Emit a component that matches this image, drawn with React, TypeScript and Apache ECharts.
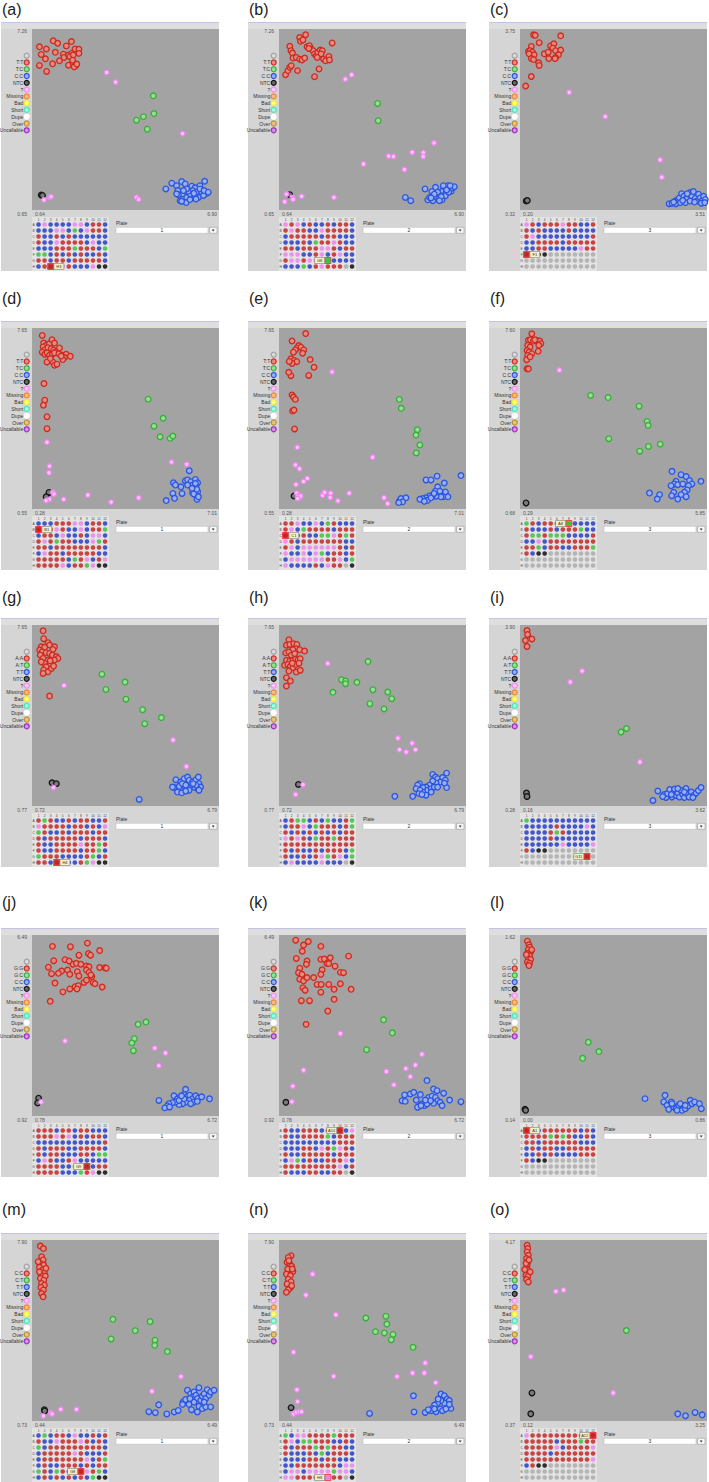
import React, { useEffect, useRef } from "react";
import * as echarts from "echarts";

// ---------- axis end labels (per panel a..o) ----------
const panelLetters = ["a", "b", "c", "d", "e", "f", "g", "h", "i", "j", "k", "l", "m", "n", "o"];
const xMinLabels = ["0.64", "0.64", "0.20", "0.28", "0.28", "0.29", "0.72", "0.72", "0.16", "0.78", "0.78", "0.00", "0.44", "0.44", "0.12"];
const xMaxLabels = ["6.90", "6.90", "3.51", "7.01", "7.01", "5.85", "6.79", "6.79", "3.62", "6.72", "6.72", "0.86", "6.49", "6.49", "3.25"];
const yMinLabels = ["0.65", "0.65", "0.32", "0.55", "0.55", "0.68", "0.77", "0.77", "0.28", "0.92", "0.92", "0.14", "0.73", "0.73", "0.37"];
const yMaxLabels = ["7.26", "7.26", "3.75", "7.65", "7.65", "7.60", "7.65", "7.65", "3.90", "6.49", "6.49", "1.62", "7.90", "7.90", "4.17"];
const plateNumbers = ["1", "2", "3"];

// ---------- legend ----------
const genoTC = ["T:T", "T:C", "C:C"];
const genoAT = ["A:A", "A:T", "T:T"];
const genoGC = ["G:G", "G:C", "C:C"];
const genoCT = ["C:C", "C:T", "T:T"];
const panelGeno = [genoTC, genoTC, genoTC, genoTC, genoTC, genoTC, genoAT, genoAT, genoAT, genoGC, genoGC, genoGC, genoCT, genoCT, genoCT];
const legendOther = ["NTC", "?", "Missing", "Bad", "Short", "Dupe", "Over", "Uncallable"];

// ---------- scatter values ----------
const aRed = [[0.89,6.61],[1.12,6.53],[1.35,6.83],[1.50,6.74],[1.79,6.64],[1.96,6.80],[2.08,6.53],[2.21,6.52],[0.95,6.33],[1.09,6.17],[1.42,6.41],[1.69,6.34],[1.71,6.22],[1.86,6.31],[1.97,6.37],[1.91,6.25],[2.02,6.31],[2.21,6.37],[1.56,6.10],[1.33,5.99],[0.89,5.93],[1.13,5.71],[1.86,5.94],[2.02,6.00],[2.11,5.93],[2.05,5.88],[2.00,6.12],[2.14,5.98]];
const aGreen = [[4.70,4.82],[4.72,4.17],[4.14,3.93],[4.37,4.06],[4.50,3.60]];
const aBlue = [[5.12,1.42],[5.32,1.63],[5.48,1.54],[5.65,1.69],[5.77,1.60],[5.52,1.36],[5.68,1.24],[5.54,1.21],[5.82,1.11],[5.60,0.99],[5.80,0.92],[5.93,1.03],[5.99,1.52],[6.10,1.46],[6.26,1.54],[6.42,1.70],[6.02,1.36],[6.15,1.30],[6.32,1.30],[6.49,1.26],[6.21,1.11],[6.38,1.18],[6.10,1.14],[5.93,1.24],[5.87,1.33],[6.06,1.26],[6.26,1.42],[6.40,1.36],[6.54,1.30],[5.65,0.97],[5.48,1.24],[6.13,1.05],[5.82,1.42],[5.71,1.36]];
const aNtc = [[0.95,1.20],[0.99,1.18]];
const aUnk = [[3.14,5.67],[3.44,5.32],[5.68,3.44],[1.04,1.02],[1.24,1.11],[4.14,1.11],[4.21,1.04],[1.28,1.14]];

const bRed = [[1.53,7.05],[1.33,6.95],[1.36,6.81],[1.44,6.86],[1.00,6.63],[1.04,6.47],[1.09,6.38],[1.11,6.20],[1.22,6.22],[1.33,6.16],[1.41,6.13],[1.50,6.20],[1.58,6.61],[1.66,6.65],[1.72,6.53],[1.78,6.47],[1.83,6.35],[1.89,6.28],[1.94,6.41],[2.02,6.49],[2.09,6.47],[2.05,6.35],[2.13,6.16],[2.20,6.10],[2.31,6.26],[2.33,6.13],[2.42,6.75],[1.98,5.80],[1.83,5.52],[1.26,5.74],[0.86,5.59],[0.94,5.74],[1.00,5.86],[1.05,5.92],[1.64,6.55],[1.92,6.22]];
const bGreen = [[3.94,4.54],[3.96,3.91]];
const bBlue = [[4.87,1.11],[5.05,0.99],[5.53,1.42],[5.62,1.02],[5.68,1.11],[5.76,1.33],[5.79,0.99],[5.88,1.48],[5.90,1.14],[5.99,1.05],[6.03,1.23],[6.10,1.02],[6.12,1.36],[6.18,1.48],[6.23,1.26],[6.29,1.54],[6.34,1.42],[6.40,1.33],[6.45,1.45],[6.51,1.50],[6.21,1.17],[6.07,1.14],[5.95,1.30],[5.84,1.23],[5.73,1.09],[6.32,1.30],[6.14,1.54],[6.25,1.38],[6.37,1.54],[6.01,0.99]];
const bNtc = [[1.00,1.21]];
const bUnk = [[2.86,5.43],[3.07,5.59],[5.83,3.10],[4.31,2.62],[4.47,2.60],[5.10,2.76],[5.47,2.74],[5.47,2.60],[4.84,2.13],[3.47,2.33],[0.89,1.23],[1.09,1.11],[1.11,1.04],[0.83,0.95],[1.40,1.15],[2.48,1.11]];

const cRed = [[0.44,3.64],[0.47,3.63],[0.92,3.62],[0.54,3.49],[0.40,3.42],[0.35,3.33],[0.38,3.34],[0.42,3.31],[0.45,3.26],[0.36,3.28],[0.40,3.19],[0.44,3.17],[0.53,3.11],[0.54,3.06],[0.63,3.28],[0.70,3.31],[0.74,3.43],[0.80,3.47],[0.78,3.39],[0.83,3.34],[0.92,3.35],[0.88,3.26],[0.83,3.21],[0.82,3.19],[0.71,3.19],[0.40,2.85],[0.30,2.67]];
const cGreen: number[][] = [];
const cBlue = [[2.84,0.44],[2.89,0.45],[2.95,0.49],[3.00,0.52],[3.02,0.55],[3.06,0.63],[3.10,0.58],[3.13,0.52],[3.16,0.55],[3.19,0.62],[3.21,0.65],[3.24,0.58],[3.27,0.67],[3.30,0.54],[3.33,0.49],[3.36,0.62],[3.39,0.55],[3.42,0.49],[3.45,0.58],[3.48,0.52],[2.96,0.44],[3.04,0.46],[3.13,0.46],[3.21,0.49],[3.29,0.47],[3.41,0.45],[3.16,0.63],[3.08,0.50],[3.47,0.46],[2.92,0.47]];
const cNtc = [[0.31,0.49],[0.33,0.50]];
const cUnk = [[1.07,2.55],[1.71,2.09],[2.68,1.27],[2.71,0.94]];

const dRed = [[0.65,7.36],[0.70,7.06],[0.79,6.97],[0.91,7.04],[1.00,7.19],[1.09,7.06],[0.68,6.91],[0.74,6.80],[0.85,6.88],[0.97,6.84],[1.06,6.78],[1.13,6.71],[1.27,6.87],[0.65,6.70],[0.74,6.62],[0.82,6.67],[0.91,6.58],[1.01,6.62],[1.09,6.67],[1.25,6.64],[1.37,6.58],[1.51,6.62],[1.66,6.54],[1.45,6.49],[1.39,6.41],[1.03,6.32],[1.09,6.19],[1.18,6.23],[0.82,6.32],[0.94,6.45],[0.71,5.47],[0.74,4.82],[0.69,4.62],[0.82,4.17],[0.82,3.70],[1.33,6.55]];
const dGreen = [[4.46,4.86],[5.00,4.11],[4.67,3.80],[4.89,3.38],[5.25,3.32],[5.35,3.41]];
const dBlue = [[5.94,2.05],[5.80,1.66],[5.88,1.69],[6.00,1.62],[6.16,1.71],[6.24,1.58],[6.06,1.49],[6.18,1.42],[6.12,1.32],[6.24,1.23],[6.06,1.19],[6.18,1.10],[6.22,0.93],[5.68,1.16],[5.64,1.42],[5.37,1.58],[5.44,1.49],[5.35,1.16],[5.41,0.97],[5.11,0.88],[5.88,1.49],[6.21,1.32],[6.04,1.36],[6.16,1.55],[6.10,1.14],[6.27,1.03]];
const dNtc = [[0.89,1.20],[0.79,1.03]];
const dUnk = [[0.82,3.17],[0.91,2.23],[0.89,1.97],[1.03,1.20],[1.07,1.14],[0.91,0.93],[0.79,0.88],[1.42,0.93],[2.29,1.10],[3.13,0.82],[4.12,0.99],[5.30,2.39],[5.85,2.30]];

const eRed = [[1.24,7.43],[0.75,7.14],[0.99,6.96],[0.93,6.87],[1.07,6.90],[0.87,6.79],[1.17,6.79],[0.80,6.70],[1.13,6.66],[0.71,6.44],[0.83,6.38],[0.92,6.33],[0.75,6.26],[0.65,6.34],[1.40,6.41],[1.54,6.11],[1.35,5.79],[0.71,5.78],[0.63,5.91],[0.75,5.02],[0.80,4.94],[0.87,4.85],[0.77,4.39],[0.82,4.43],[0.84,3.69]];
const eGreen = [[4.61,4.85],[4.68,4.50],[5.26,3.66],[5.21,3.45],[5.35,3.06],[5.22,2.75]];
const eBlue = [[6.83,1.86],[5.57,1.69],[5.75,1.69],[5.97,1.84],[6.23,1.57],[5.99,1.42],[5.91,1.25],[6.05,1.12],[6.27,1.22],[6.19,1.03],[6.36,1.03],[6.11,1.03],[5.93,1.05],[5.81,1.09],[5.69,1.06],[5.57,0.99],[5.45,0.96],[5.35,0.93],[5.63,0.89],[5.51,0.85],[5.75,0.99],[5.86,1.16],[6.07,1.25],[4.61,0.85],[4.67,0.96],[4.85,0.99],[4.73,0.83],[4.59,0.80]];
const eNtc = [[0.82,1.06]];
const eUnk = [[2.19,5.93],[0.94,2.97],[3.65,2.58],[0.87,2.28],[1.02,2.13],[1.30,1.75],[1.16,1.63],[0.89,1.51],[0.92,1.17],[0.96,1.06],[1.01,0.99],[1.06,1.06],[0.95,0.96],[1.85,1.09],[1.92,1.20],[2.14,1.17],[2.12,1.00],[2.40,0.87],[2.81,1.17],[4.06,0.99],[4.19,0.76]];

const fRed = [[0.64,7.38],[0.54,7.13],[0.60,7.15],[0.69,7.10],[0.78,7.13],[0.88,7.10],[0.91,7.00],[0.85,6.94],[0.52,6.94],[0.59,6.87],[0.50,6.74],[0.56,6.68],[0.64,6.62],[0.52,6.55],[0.49,6.39],[0.59,6.50],[0.83,6.71],[0.50,6.04],[0.54,6.04],[0.73,7.15]];
const fGreen = [[2.39,5.02],[2.91,4.94],[3.83,4.61],[4.07,4.03],[4.10,3.88],[2.93,3.37],[4.11,3.07],[4.46,3.16],[3.85,2.89]];
const fBlue = [[4.81,2.12],[5.08,1.99],[5.23,1.92],[5.33,1.77],[5.40,1.64],[5.67,1.74],[4.93,1.74],[4.88,1.64],[4.98,1.61],[4.78,1.57],[5.13,1.64],[5.30,1.57],[5.26,1.41],[5.18,1.32],[5.08,1.23],[4.86,1.32],[4.80,1.19],[4.98,1.06],[5.23,1.15],[4.14,1.29],[4.44,1.23],[4.37,1.06]];
const fNtc = [[0.47,0.91]];
const fUnk = [[1.46,5.99]];

const gRed = [[1.08,7.43],[1.10,7.13],[1.24,6.98],[1.29,6.89],[1.02,6.82],[1.13,6.80],[1.45,6.82],[1.40,6.72],[0.97,6.70],[1.05,6.63],[1.18,6.60],[1.29,6.57],[1.38,6.51],[1.51,6.45],[1.56,6.38],[1.45,6.32],[0.99,6.51],[1.08,6.38],[1.24,6.32],[1.31,6.29],[1.13,6.19],[1.02,6.25],[1.18,6.06],[1.10,5.94],[1.24,5.87],[1.35,6.00],[1.08,5.81],[1.42,6.09],[1.29,4.95]];
const gGreen = [[2.99,5.78],[3.74,5.48],[3.12,5.20],[3.77,4.83],[4.31,4.43],[4.92,4.13],[4.38,3.90]];
const gBlue = [[4.20,1.02],[5.39,1.77],[5.55,1.68],[5.66,1.81],[5.77,1.87],[5.82,1.75],[5.93,1.68],[6.04,1.77],[6.12,1.87],[6.14,1.62],[6.19,1.49],[6.09,1.43],[5.98,1.49],[5.87,1.56],[5.77,1.49],[5.66,1.43],[5.55,1.37],[5.44,1.30],[5.33,1.47],[5.28,1.49],[5.50,1.52],[5.60,1.62],[5.71,1.56],[6.04,1.56],[6.14,1.37],[5.82,1.37],[5.95,1.62],[5.58,1.27],[5.71,1.34]];
const gNtc = [[1.37,1.65],[1.51,1.62]];
const gUnk = [[1.76,5.35],[5.30,3.28],[5.73,2.27],[1.42,1.47]];

const hRed = [[1.04,7.09],[0.96,6.88],[1.07,6.91],[1.20,6.94],[1.30,6.91],[1.28,6.75],[1.39,6.71],[1.55,6.66],[1.17,6.71],[0.94,6.59],[1.04,6.62],[1.12,6.50],[0.96,6.31],[1.07,6.28],[1.17,6.31],[1.26,6.37],[1.34,6.33],[1.41,6.37],[0.90,6.12],[1.01,6.15],[1.09,6.08],[1.17,6.03],[1.26,6.15],[1.37,6.20],[1.04,5.90],[1.28,5.86],[1.41,5.93],[0.96,5.65],[1.09,5.52],[0.96,5.33],[1.15,6.20],[1.23,6.56]];
const hGreen = [[3.61,6.26],[2.75,5.57],[2.88,5.52],[2.88,5.42],[3.25,5.47],[2.47,5.09],[3.77,5.19],[4.25,5.10],[4.38,4.85],[3.67,4.66],[4.13,4.46]];
const hBlue = [[4.48,1.14],[6.16,2.02],[5.71,1.97],[5.80,1.87],[5.87,1.81],[6.03,1.85],[6.12,1.75],[5.95,1.68],[5.82,1.64],[5.71,1.72],[5.60,1.56],[5.49,1.49],[5.39,1.47],[5.28,1.62],[5.22,1.56],[5.17,1.43],[5.30,1.37],[5.44,1.30],[5.55,1.37],[5.66,1.43],[5.76,1.49],[5.87,1.49],[6.16,1.47],[5.26,1.24],[5.49,1.18],[5.36,1.21],[5.06,1.14],[5.66,1.30],[6.09,1.64]];
const hNtc = [[1.35,1.59]];
const hUnk = [[2.30,6.19],[4.58,3.35],[5.04,3.16],[4.63,2.91],[4.85,2.82],[5.15,2.91],[1.50,1.58],[1.26,1.21]];

const iRed = [[0.29,3.79],[0.30,3.71],[0.26,3.59],[0.38,3.62],[0.29,3.47]];
const iGreen = [[2.03,1.76],[2.13,1.83]];
const iBlue = [[2.62,0.39],[2.71,0.58],[2.83,0.51],[2.86,0.45],[2.89,0.53],[2.93,0.61],[2.97,0.46],[3.01,0.56],[3.05,0.49],[3.08,0.54],[3.11,0.46],[3.14,0.59],[3.17,0.51],[3.20,0.45],[3.23,0.63],[3.26,0.51],[3.29,0.46],[3.33,0.56],[3.37,0.49],[3.42,0.54],[3.46,0.59],[3.51,0.65],[3.02,0.62],[2.96,0.51],[3.36,0.45],[3.20,0.56],[2.80,0.47],[3.08,0.63]];
const iNtc = [[0.28,0.54],[0.29,0.47]];
const iUnk = [[1.31,2.98],[1.09,2.76],[2.38,1.16]];

const jRed = [[1.43,6.14],[2.00,6.13],[2.54,6.24],[2.93,6.01],[1.47,5.70],[1.83,5.73],[2.27,5.87],[2.57,5.92],[2.64,5.87],[2.08,5.59],[2.19,5.62],[2.33,5.59],[2.51,5.54],[2.59,5.51],[1.30,5.50],[1.72,5.38],[1.62,5.31],[1.40,5.30],[1.91,5.41],[1.98,5.28],[2.22,5.36],[2.27,5.23],[2.51,5.41],[2.59,5.34],[2.68,5.21],[2.93,5.49],[3.10,5.48],[3.14,5.47],[1.51,5.01],[1.76,4.74],[1.98,4.83],[2.15,4.90],[2.25,4.93],[2.21,4.83],[2.43,5.03],[2.51,5.10],[2.72,5.03],[2.78,4.99],[3.01,4.89],[1.36,4.45],[2.65,5.26],[1.96,5.69]];
const jGreen = [[4.15,3.74],[4.40,3.81],[4.03,3.30],[3.95,3.17],[4.00,2.93]];
const jBlue = [[4.81,1.40],[5.66,1.74],[6.42,1.45],[5.29,1.54],[5.40,1.45],[5.50,1.51],[5.61,1.58],[5.71,1.51],[5.79,1.56],[5.87,1.45],[5.98,1.54],[6.06,1.47],[6.17,1.51],[5.77,1.40],[5.66,1.35],[5.56,1.30],[5.45,1.27],[5.34,1.35],[5.24,1.33],[5.13,1.30],[5.08,1.23],[5.00,1.17],[5.15,1.20],[5.45,1.40],[5.92,1.35],[5.82,1.30],[5.61,1.45],[6.03,1.37],[5.53,1.54]];
const jNtc = [[0.99,1.47],[0.96,1.32]];
const jUnk = [[1.83,3.23],[4.68,3.01],[5.02,2.86],[4.81,2.47],[1.07,1.35]];

const kRed = [[1.31,6.33],[1.56,6.18],[1.71,6.29],[2.11,6.14],[1.52,5.99],[1.33,5.77],[1.67,5.69],[1.65,5.59],[2.11,5.74],[2.22,5.75],[2.41,5.79],[2.30,5.61],[2.56,5.53],[2.99,5.84],[1.44,5.47],[1.40,5.33],[1.51,5.28],[1.44,5.13],[1.56,5.08],[1.67,5.18],[1.88,5.18],[2.15,5.42],[2.11,5.28],[1.99,4.97],[2.12,4.97],[2.36,4.97],[2.73,5.34],[2.83,5.33],[2.73,4.99],[2.53,4.82],[3.07,4.82],[1.54,4.87],[1.61,4.79],[1.49,4.47],[1.75,4.47],[2.11,4.73],[2.53,4.51],[2.33,4.15],[1.64,3.74],[2.36,5.61]];
const kGreen = [[4.10,3.88],[4.38,3.48],[3.56,2.96]];
const kBlue = [[5.48,2.01],[4.77,1.57],[4.69,1.39],[4.79,1.37],[4.95,1.60],[5.06,1.65],[5.14,1.41],[5.27,1.58],[5.32,1.29],[5.22,1.21],[5.18,1.19],[5.40,1.24],[5.48,1.29],[5.53,1.49],[5.64,1.53],[5.69,1.75],[5.80,1.70],[5.75,1.49],[5.82,1.39],[5.69,1.31],[5.90,1.34],[5.96,1.24],[6.01,1.62],[6.20,1.41],[6.56,1.36],[5.59,1.39],[5.43,1.41],[5.29,1.24]];
const kNtc = [[1.00,1.34]];
const kUnk = [[2.73,3.46],[1.56,2.33],[1.22,1.84],[1.19,1.36],[4.19,2.29],[4.43,1.88],[4.81,2.38],[4.95,2.13],[5.11,2.49],[5.32,2.82]];

const lRed = [[0.034,1.57],[0.041,1.54],[0.044,1.52],[0.038,1.50],[0.049,1.48],[0.034,1.47],[0.044,1.45],[0.038,1.43],[0.049,1.42],[0.034,1.40],[0.044,1.39],[0.041,1.37],[0.029,1.46],[0.054,1.50]];
const lGreen = [[0.314,0.743],[0.363,0.667],[0.288,0.612]];
const lBlue = [[0.575,0.282],[0.667,0.309],[0.661,0.255],[0.676,0.227],[0.684,0.195],[0.696,0.255],[0.707,0.214],[0.718,0.200],[0.730,0.227],[0.737,0.241],[0.745,0.186],[0.760,0.200],[0.773,0.222],[0.783,0.268],[0.791,0.241],[0.803,0.255],[0.825,0.241],[0.834,0.200],[0.699,0.241],[0.722,0.186],[0.760,0.227]];
const lNtc = [[0.023,0.195],[0.026,0.186]];
const lUnk: number[][] = [];

const mRed = [[0.71,7.66],[0.81,7.56],[0.75,7.24],[0.80,7.11],[0.71,6.97],[0.82,6.91],[0.68,6.82],[0.78,6.71],[0.84,6.60],[0.73,6.51],[0.87,6.47],[0.71,6.38],[0.82,6.31],[0.75,6.18],[0.84,6.11],[0.73,6.02],[0.81,5.92],[0.75,5.78],[0.80,5.65],[0.64,7.04],[0.89,6.78],[0.68,6.64]];
const mGreen = [[3.06,4.76],[4.26,4.67],[3.78,4.31],[3.00,3.98],[4.42,3.93],[4.41,3.73],[4.82,3.48]];
const mBlue = [[4.22,1.10],[4.43,1.06],[4.54,1.37],[4.80,1.01],[5.04,1.09],[5.17,1.15],[5.33,1.48],[5.31,1.39],[5.47,1.95],[5.57,1.81],[5.63,1.68],[5.68,1.88],[5.74,1.75],[5.79,1.62],[5.84,2.05],[5.90,1.55],[5.95,1.71],[6.01,1.81],[6.06,1.62],[6.11,1.97],[6.17,1.75],[6.22,1.88],[6.33,1.95],[5.84,1.31],[5.95,1.22],[6.06,1.29],[6.22,1.29],[5.52,1.39],[5.60,1.18],[5.79,1.09],[5.68,1.48],[5.41,1.58],[5.55,1.62],[6.01,1.48]];
const mNtc = [[0.84,1.18],[0.85,1.13]];
const mUnk = [[5.26,2.49],[4.32,1.91],[0.81,0.93],[1.05,1.05],[1.09,1.01],[1.37,1.19],[1.88,1.19]];

const nRed = [[0.83,7.28],[0.74,7.21],[0.70,7.02],[0.79,6.95],[0.85,6.86],[0.72,6.75],[0.89,6.65],[0.68,6.55],[0.81,6.49],[0.74,6.35],[0.83,6.25],[0.70,6.16],[0.81,6.02],[0.74,5.93],[0.68,5.83],[0.87,6.75],[0.76,7.08],[0.85,6.09]];
const nGreen = [[3.25,4.81],[3.90,4.88],[3.93,4.57],[3.56,4.27],[3.85,4.22],[4.13,4.16],[4.07,3.95],[4.78,3.65]];
const nBlue = [[3.37,1.03],[4.79,1.73],[4.81,1.09],[5.17,1.07],[5.68,1.80],[5.79,1.73],[5.88,1.60],[5.95,1.54],[6.00,1.23],[5.90,1.34],[5.79,1.44],[5.68,1.54],[5.57,1.44],[5.47,1.36],[5.41,1.23],[5.36,1.14],[5.52,1.10],[5.66,1.21],[5.73,1.14],[5.84,1.21],[5.59,1.60],[5.95,1.39],[5.27,1.18],[5.47,1.21]];
const nNtc = [[0.83,1.26]];
const nUnk = [[1.53,6.55],[1.31,5.72],[2.28,4.94],[0.91,3.46],[2.21,2.50],[4.26,2.49],[5.17,3.03],[4.76,2.63],[5.14,2.63],[5.51,2.25],[1.02,1.97],[1.04,1.50],[0.91,1.01],[1.00,1.07],[1.10,1.10],[1.17,1.10]];

const oRed = [[0.24,4.06],[0.25,3.99],[0.24,3.92],[0.26,3.85],[0.23,3.78],[0.25,3.71],[0.24,3.64],[0.23,3.57],[0.26,3.53],[0.20,3.55],[0.29,3.50],[0.22,3.43],[0.25,3.40],[0.23,3.34],[0.26,3.29],[0.22,3.68],[0.27,3.75]];
const oGreen = [[1.90,2.27]];
const oBlue = [[2.76,0.52],[2.89,0.48],[3.05,0.55],[3.17,0.50]];
const oNtc = [[0.32,0.96],[0.30,0.52]];
const oUnk = [[0.72,3.09],[0.85,3.12],[0.30,1.72],[1.68,0.96]];

const redSets = [aRed, bRed, cRed, dRed, eRed, fRed, gRed, hRed, iRed, jRed, kRed, lRed, mRed, nRed, oRed];
const greenSets = [aGreen, bGreen, cGreen, dGreen, eGreen, fGreen, gGreen, hGreen, iGreen, jGreen, kGreen, lGreen, mGreen, nGreen, oGreen];
const blueSets = [aBlue, bBlue, cBlue, dBlue, eBlue, fBlue, gBlue, hBlue, iBlue, jBlue, kBlue, lBlue, mBlue, nBlue, oBlue];
const ntcSets = [aNtc, bNtc, cNtc, dNtc, eNtc, fNtc, gNtc, hNtc, iNtc, jNtc, kNtc, lNtc, mNtc, nNtc, oNtc];
const unkSets = [aUnk, bUnk, cUnk, dUnk, eUnk, fUnk, gUnk, hUnk, iUnk, jUnk, kUnk, lUnk, mUnk, nUnk, oUnk];

// ---------- plate maps (R red, B blue, G green, P pink, K black, X empty) ----------
const plateCols = ["1", "2", "3", "4", "5", "6", "7", "8", "9", "10", "11", "12"];
const plateRows = ["A", "B", "C", "D", "E", "F", "G", "H"];
const EMPTY = "XXXXXXXXXXXX";
const plateA = ["BPBBBBPPBRRB", "BBBPPBGBPRRB", "RBBRBRBBBBBB", "RBBPRRRRBPBB", "BBBRRRGRRRBG", "GGBRBRBRBBRB", "RRBRRBRRRRRB", "BRRBPRBBBPKK"];
const plateB = ["PRPBRBBRBRRB", "RPRRBBPRRRRB", "BRRRRRBRRBBB", "BBBRBGRRPRBB", "RRBRRRPPRBRR", "PPPBBRPBRPBB", "RPPRPPPGBBBB", "BBBGBRPRRRXK"];
const plateC = ["PRBRRRPRRBBR", "RBRBBBBRBBBB", "RPBBBBBBBBBR", "BBRRRRBRRRRR", "BBRRBBBBBPRR", "RRKKXXXXXXXX", EMPTY, EMPTY];
const plateD = ["BBBRRRPPBRRB", "RBRPRBBPBRRG", "BRRBPBBRBPPB", "RPRGRRBBBPGR", "RRBRRRRRRRRB", "BPRRBRRRRRBB", "RRRRRBGRPBRP", "RRRRPBRRGPKK"];
const plateE = ["RRPBBPBGRBBB", "RPBGRRRRBRRR", "RRBRBBGGPRGR", "PRBRRRRRRRBB", "RPBPPPPPPRBR", "PBBPBPGBRRBR", "BPPPPPPRRPBG", "PBBBBRBPRRXK"];
const plateF = ["GRBRRRRGBBBB", "RBBBRBRRRGBB", "RGGRGGGBBBBR", "BBPBRRRRRRRR", "RRGBRRBBRRRG", "RBKKXXXXXXXX", EMPTY, EMPTY];
const plateG = ["RGRBBRBRRBBR", "PRRRRBRRBRBP", "GRBBRBRRRBRR", "RBRRRRRBRRRB", "RBBRRRRPRRGR", "RBBRRRRBRRGB", "GRRRBBBBRGBR", "RRBRBBBRGPKK"];
const plateH = ["BRGGBRBGBBRG", "BRRPBGRRRBRG", "RBRBRBRBRBRR", "PRPRBGRRGRRR", "RRRRRRRRRRRR", "RBRBBRBRRRBG", "RBBRBRPGRPBG", "BPBBBBPBBBXK"];
const plateI = ["GBBBBBBBBBBB", "BBBBBRBBBBPB", "BBBBRGRBBBBB", "BBBBRBBBBBBB", "BBBBBBPBBBBP", "RBKKXXXXXXXX", "XXXXXXXXXXRX", EMPTY];
const plateJ = ["RRRBRRBRRBBB", "RRRPRPBRBRRB", "BBBBBBBBBBBR", "RBRRRBBRRRRB", "RBRRBBBRRBGG", "BPRBBRPBBBBB", "RRRRBBGGRBRR", "RRRRBBBGRPKK"];
const plateK = ["RBBRRRBRRRBP", "RBBRRRRGBRRR", "BBBBBBBBBRRR", "BBBRRBPRGPRB", "RBBRRRRRBRRR", "BPGBRBBRRRPB", "RRRRRRRRRPBR", "RBBBRRBBRRXK"];
const plateL = ["RRBRRRRRRBRB", "RRRRGRGRBBRB", "RRBRRRRRRBBB", "BRBRRBBRRRRR", "BBRBRBBBBRRR", "RBKKXXXXXXXX", EMPTY, EMPTY];
const plateM = ["BGBRRBPBBRBR", "RBBPRRRPRBRB", "GBRRRRRRRRRB", "BRRRRRPRBBBR", "BRRRRRRRPBRG", "BRBBRRRBRBRR", "GRBGRBBRPRGB", "BRBRBRBRBGKK"];
const plateN = ["GBPPRRRRGRRR", "RPBGGRRRBBRB", "RBRRRGRGRRBB", "RBBBRBGBRRRB", "BBBBRRBRRBBB", "BBRRRRRRRBPP", "BPPBPPPPGPPB", "PPRRRRRPRRXK"];
const plateO = ["PRRRRRRRRRRR", "RRRRRBRRRGRR", "RRRRRPBRRRRP", "RRRRBRRRRRRR", "RRRRRRRRRRRP", "BRKKXXXXXXXX", EMPTY, EMPTY];
const plates = [plateA, plateB, plateC, plateD, plateE, plateF, plateG, plateH, plateI, plateJ, plateK, plateL, plateM, plateN, plateO];
const selectedWell = ["H3", "G8", "F1", "B1", "C1", "A8", "H4", "", "G11", "G9", "A10", "A1", "G8", "H8", "A12"];
const selectedSide = ["r", "l", "r", "r", "r", "l", "r", "", "l", "l", "l", "r", "l", "l", "l"];

// ---------- styling / layout ----------
const COL_X = [32, 279, 520];
const ROW_Y = [29, 328, 625, 935, 1240];
const LABEL_Y = [9, 298, 597, 902, 1209];
const PW = 187;
const PH = 181;
const FONT = "Arial, 'Liberation Sans', sans-serif";

const RING = { red: "#cc2a1f", green: "#37ad37", blue: "#2a55dc", black: "#151515", pink: "#ef86ef" };
const FILL = { red: "#e48a80", green: "#98dc98", blue: "#98aef0", black: "#7a7a7a", pink: "#ffc6ff" };
const WELL: Record<string, string> = { R: "#c31b1b", B: "#1a33c4", G: "#34bf34", P: "#ef7def", K: "#000000", X: "#a9a9a9" };
const LEGEND_STYLE = [
  { ring: "#a2a2a2", fill: "#dadada" },
  { ring: RING.red, fill: FILL.red },
  { ring: RING.green, fill: FILL.green },
  { ring: RING.blue, fill: FILL.blue },
  { ring: RING.black, fill: "#666666" },
  { ring: "#f08cf0", fill: "#ffc8ff" },
  { ring: "#f0842c", fill: "#f8bd86" },
  { ring: "#eeee30", fill: "#ffff88" },
  { ring: "#3fe6b6", fill: "#a6ffe2" },
  { ring: "#ffffff", fill: "#ffffff" },
  { ring: "#bf9030", fill: "#e2c486" },
  { ring: "#9e2cbe", fill: "#d294e2" },
];

function buildOption() {
  const grid: any[] = [];
  const xAxis: any[] = [];
  const yAxis: any[] = [];
  const series: any[] = [];
  const graphic: any[] = [];

  panelLetters.forEach((letter, i) => {
    const col = i % 3;
    const row = Math.floor(i / 3);
    const pl = COL_X[col];
    const pt = ROW_Y[row];
    const pr = pl + PW;
    const pb = pt + PH;
    const fl = pl - 31;
    const ft = pt - 7;
    const fw = PW + 31;
    const fh = PH + 68;

    // frame and backgrounds
    graphic.push({ type: "rect", z: 0, silent: true, shape: { x: fl, y: ft, width: fw, height: fh }, style: { fill: "#d5d5d5" } });
    graphic.push({ type: "rect", z: 0, silent: true, shape: { x: fl, y: ft, width: fw, height: 7 }, style: { fill: "#dedede" } });
    graphic.push({ type: "line", z: 1, silent: true, shape: { x1: fl, y1: ft + 0.5, x2: fl + fw, y2: ft + 0.5 }, style: { stroke: "#c3c3e6", lineWidth: 1.2 } });
    graphic.push({ type: "rect", z: 0, silent: true, shape: { x: pl, y: pt, width: PW, height: PH }, style: { fill: "#a3a3a3" } });
    graphic.push({ type: "rect", z: 0, silent: true, shape: { x: pl, y: pb + 7, width: 77, height: 54 }, style: { fill: "#e3e3e3" } });

    // panel letter
    graphic.push({ type: "text", z: 1, x: fl + 1, y: LABEL_Y[row], style: { text: `(${letter})`, font: `16px ${FONT}`, fill: "#222", verticalAlign: "middle", align: "left" } });

    // axis end labels
    const tiny = { fontSize: 5, fontFamily: FONT, fill: "#555", verticalAlign: "middle" };
    graphic.push({ type: "text", z: 1, x: pl - 5, y: pt + 2, style: { ...tiny, text: yMaxLabels[i], align: "right" } });
    graphic.push({ type: "text", z: 1, x: pl - 5, y: pb + 4, style: { ...tiny, text: yMinLabels[i], align: "right" } });
    graphic.push({ type: "text", z: 1, x: pl + 3, y: pb + 4, style: { ...tiny, text: xMinLabels[i], align: "left" } });
    graphic.push({ type: "text", z: 1, x: pr - 2, y: pb + 4, style: { ...tiny, text: xMaxLabels[i], align: "right" } });

    // legend column
    const labels = ["", ...panelGeno[i], ...legendOther];
    labels.forEach((lab, k) => {
      const cy = pt + 26.7 + k * 6.78;
      const st = LEGEND_STYLE[k];
      graphic.push({ type: "circle", z: 1, silent: true, shape: { cx: pl - 5.3, cy, r: 2.5 }, style: { fill: st.fill, stroke: st.ring, lineWidth: 1.2 } });
      if (lab) {
        graphic.push({ type: "text", z: 1, x: pl - 8.8, y: cy, style: { text: lab, fontSize: 5, fontFamily: FONT, fill: "#333", align: "right", verticalAlign: "middle" } });
      }
    });

    // dropdown
    graphic.push({ type: "text", z: 1, x: pl + 84, y: pb + 13.3, style: { text: "Plate", fontSize: 5, fontFamily: FONT, fill: "#333", verticalAlign: "middle" } });
    graphic.push({ type: "rect", z: 1, silent: true, shape: { x: pl + 84, y: pb + 17.3, width: 92, height: 6 }, style: { fill: "#ffffff", stroke: "#b4b4b4", lineWidth: 0.5 } });
    graphic.push({ type: "text", z: 2, x: pl + 130, y: pb + 20.4, style: { text: plateNumbers[col], fontSize: 5, fontFamily: FONT, fill: "#333", align: "center", verticalAlign: "middle" } });
    graphic.push({ type: "rect", z: 1, silent: true, shape: { x: pl + 177.5, y: pb + 17.3, width: 7.5, height: 6 }, style: { fill: "#f6f6f6", stroke: "#8c8c8c", lineWidth: 0.5 } });
    graphic.push({ type: "polygon", z: 2, silent: true, shape: { points: [[pl + 179.8, pb + 19.6], [pl + 182.6, pb + 19.6], [pl + 181.2, pb + 21.4]] }, style: { fill: "#333" } });

    // scatter grid
    const gi = i * 2;
    grid.push({ left: pl, top: pt, width: PW, height: PH, show: false });
    xAxis.push({ type: "value", gridIndex: gi, min: parseFloat(xMinLabels[i]), max: parseFloat(xMaxLabels[i]), show: false });
    yAxis.push({ type: "value", gridIndex: gi, min: parseFloat(yMinLabels[i]), max: parseFloat(yMaxLabels[i]), show: false });
    const clusters: [number[][], string, string, number][] = [
      [redSets[i], RING.red, FILL.red, 5.6],
      [greenSets[i], RING.green, FILL.green, 5.6],
      [blueSets[i], RING.blue, FILL.blue, 5.6],
      [ntcSets[i], RING.black, FILL.black, 5.6],
      [unkSets[i], RING.pink, FILL.pink, 4.6],
    ];
    clusters.forEach(([data, ring, fill, size]) => {
      series.push({
        type: "scatter", xAxisIndex: gi, yAxisIndex: gi, data, symbol: "circle", symbolSize: size, z: 5, silent: true,
        itemStyle: { color: fill, borderColor: ring, borderWidth: 1.3, opacity: 1 },
      });
    });

    // plate grid
    const pg = gi + 1;
    grid.push({ left: pl + 3.5, top: pb + 11.5, width: 72.6, height: 48, show: false });
    xAxis.push({
      type: "category", gridIndex: pg, data: plateCols, position: "top", z: 5,
      axisLine: { show: false }, axisTick: { show: false }, splitLine: { show: false },
      axisLabel: { interval: 0, fontSize: 3.2, margin: 0.4, color: "#444", fontFamily: FONT },
    });
    yAxis.push({
      type: "category", gridIndex: pg, data: plateRows, inverse: true, z: 5,
      axisLine: { show: false }, axisTick: { show: false }, splitLine: { show: false },
      axisLabel: { interval: 0, fontSize: 3.2, margin: 0.8, color: "#444", fontFamily: FONT },
    });
    const byColor: Record<string, number[][]> = {};
    plates[i].forEach((rowStr, r) => {
      rowStr.split("").forEach((code, c) => {
        (byColor[code] = byColor[code] || []).push([c, r]);
      });
    });
    Object.keys(byColor).forEach((code) => {
      series.push({
        type: "scatter", xAxisIndex: pg, yAxisIndex: pg, data: byColor[code], symbol: "circle", symbolSize: 4.6, z: 5, silent: true,
        itemStyle: { color: WELL[code] },
      });
    });

    // selected well
    const well = selectedWell[i];
    if (well) {
      const r = plateRows.indexOf(well[0]);
      const c = parseInt(well.slice(1), 10) - 1;
      const code = plates[i][r][c];
      series.push({
        type: "scatter", xAxisIndex: pg, yAxisIndex: pg, data: [[c, r]], symbol: "rect", symbolSize: 6, z: 8, silent: true,
        itemStyle: { color: WELL[code], borderColor: "#ff2a2a", borderWidth: 1 },
      });
      const cx = pl + 6.5 + c * 6.05;
      const cy = pb + 14.5 + r * 6;
      const bx = selectedSide[i] === "r" ? cx + 3.3 : cx - 13.3;
      graphic.push({ type: "rect", z: 20, silent: true, shape: { x: bx, y: cy - 3, width: 10, height: 6 }, style: { fill: "#f3efc6", stroke: "#6a6a6a", lineWidth: 0.5 } });
      graphic.push({ type: "text", z: 21, x: bx + 5, y: cy, style: { text: well, fontSize: 4, fontFamily: FONT, fill: "#333", align: "center", verticalAlign: "middle" } });
    }
  });

  return { animation: false, backgroundColor: "#ffffff", grid, xAxis, yAxis, series, graphic };
}

export default function App() {
  const ref = useRef<HTMLDivElement>(null);
  useEffect(() => {
    if (!ref.current) return;
    const chart = echarts.init(ref.current, null, { renderer: "svg" });
    chart.setOption(buildOption() as any);
    return () => chart.dispose();
  }, []);
  return (
    <div
      ref={ref}
      style={{ position: "absolute", left: 0, top: 0, width: 709, height: 1482, background: "#ffffff" }}
    />
  );
}
